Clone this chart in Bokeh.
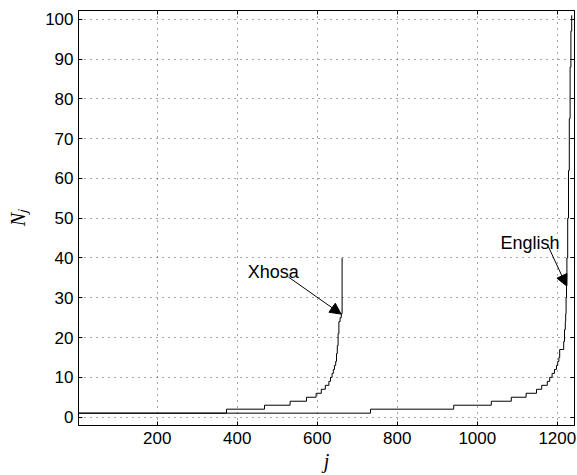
from bokeh.plotting import figure
from bokeh.models import (Range1d, FixedTicker, LinearAxis, Label, Arrow,
                          NormalHead, CustomJSTickFormatter)
from bokeh.embed import file_html
from bokeh.resources import INLINE

# ---- data ----
# rank j at which the frequency N_j changes, and the new value of N_j
xhosa_j = [1, 373, 468, 532, 573, 597, 610, 620, 629, 633, 637, 640, 643,
           646, 648, 650, 652, 654, 657, 660, 662]
xhosa_N = [1, 2, 3, 4, 5, 6, 7, 8, 9, 10, 11, 12, 13,
           14, 16, 18, 21, 24, 25, 26, 40]

english_j = [1, 733, 941, 1035, 1085, 1122, 1148, 1161, 1175, 1181, 1187,
             1193, 1198, 1201, 1204, 1206, 1216, 1218, 1220, 1221, 1222,
             1223, 1224, 1226, 1228, 1230, 1232, 1234, 1236]
english_N = [1, 2, 3, 4, 5, 6, 7, 8, 9, 10, 11,
             12, 13, 14, 15, 17, 19, 22, 24, 26, 30,
             33, 40, 50, 62, 75, 88, 97, 101]

x_ticks = [200, 400, 600, 800, 1000, 1200]
y_ticks = [0, 10, 20, 30, 40, 50, 60, 70, 80, 90, 100]

# annotation anchors (data coordinates)
xhosa_text = (426, 36.6)
xhosa_arrow = (528, 35.2, 659.5, 25.9)
english_text = (1058, 43.8)
english_arrow = (1178, 42.8, 1223, 33.0)

FONT = "Liberation Sans"

p = figure(width=577, height=475, output_backend="svg", toolbar_location=None,
           x_range=Range1d(3, 1243), y_range=Range1d(-2.1, 102.2),
           min_border_left=78, min_border_right=3, min_border_top=10,
           min_border_bottom=50)

p.background_fill_color = "white"
p.border_fill_color = "white"
p.outline_line_color = "black"
p.outline_line_width = 1

for ax in (p.xaxis[0], p.yaxis[0]):
    ax.major_tick_in = 4
    ax.major_tick_out = 0
    ax.minor_tick_in = 0
    ax.minor_tick_out = 0
    ax.axis_line_color = "black"
    ax.major_tick_line_color = "black"
    ax.major_label_text_font = FONT
    ax.major_label_text_font_size = "17px"
    ax.major_label_text_color = "black"
    ax.axis_label_text_font = "Liberation Serif"
    ax.axis_label_text_font_style = "italic"
    ax.axis_label_text_font_size = "20px"
    ax.axis_label_text_color = "black"

p.xaxis.ticker = FixedTicker(ticks=x_ticks)
p.yaxis.ticker = FixedTicker(ticks=y_ticks)
p.xaxis.major_label_standoff = 6
p.yaxis.major_label_standoff = 5
p.xaxis.axis_label = "j"
p.xaxis.axis_label_standoff = 3
p.yaxis.axis_label = "N\u2c7c"
p.yaxis.axis_label_standoff = 13

blank = CustomJSTickFormatter(code="return ''")
p.add_layout(LinearAxis(ticker=FixedTicker(ticks=y_ticks), formatter=blank,
                        major_tick_in=4, major_tick_out=0, minor_tick_in=0,
                        minor_tick_out=0, major_label_standoff=0,
                        major_label_text_font_size="1px",
                        axis_line_color="black"), "right")
p.add_layout(LinearAxis(ticker=FixedTicker(ticks=x_ticks), formatter=blank,
                        major_tick_in=4, major_tick_out=0, minor_tick_in=0,
                        minor_tick_out=0, major_label_standoff=0,
                        major_label_text_font_size="1px",
                        axis_line_color="black"), "above")

for g in (p.xgrid[0], p.ygrid[0]):
    g.grid_line_color = "#222222"
    g.grid_line_alpha = 0.8
    g.grid_line_dash = "1 5"
    g.grid_line_width = 1

p.step(xhosa_j, xhosa_N, mode="after", line_color="black", line_width=1)
p.step(english_j, english_N, mode="after", line_color="black", line_width=1)

p.add_layout(Label(x=xhosa_text[0], y=xhosa_text[1], text="Xhosa",
                   text_font=FONT, text_font_size="18px",
                   text_baseline="middle", text_align="left",
                   text_color="black"))
p.add_layout(Label(x=english_text[0], y=english_text[1], text="English",
                   text_font=FONT, text_font_size="18px",
                   text_baseline="middle", text_align="left",
                   text_color="black"))

for (x0, y0, x1, y1) in (xhosa_arrow, english_arrow):
    p.add_layout(Arrow(x_start=x0, y_start=y0, x_end=x1, y_end=y1,
                       line_color="black", line_width=1,
                       end=NormalHead(size=11, fill_color="black",
                                      line_color="black")))

open("out.html", "w").write(file_html(p, INLINE))
